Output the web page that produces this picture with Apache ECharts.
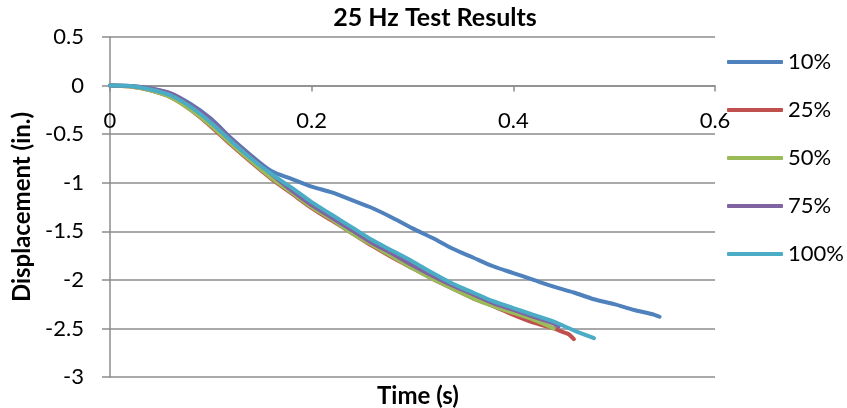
<!DOCTYPE html>
<html>
<head>
<meta charset="utf-8">
<script src="https://cdn.jsdelivr.net/npm/echarts@6/dist/echarts.min.js"></script>
<style>
  html, body { margin: 0; padding: 0; background: #fff; }
  #chart { width: 847px; height: 408px; }
</style>
</head>
<body>
<div id="chart"></div>
<script>
// time (s) and displacement (in.)
const time10 = [0, 0.02, 0.04, 0.06, 0.08, 0.10, 0.12, 0.14, 0.16, 0.18, 0.20, 0.22, 0.24, 0.26, 0.28, 0.30, 0.32, 0.34, 0.36, 0.38, 0.40, 0.42, 0.44, 0.46, 0.48, 0.50, 0.52, 0.54, 0.545]
const disp10 = [0, -0.005, -0.03, -0.08, -0.19, -0.34, -0.54, -0.72, -0.88, -0.96, -1.04, -1.10, -1.18, -1.26, -1.36, -1.47, -1.57, -1.68, -1.77, -1.86, -1.93, -2.00, -2.07, -2.13, -2.20, -2.25, -2.31, -2.36, -2.38]

const time25 = [0, 0.02, 0.04, 0.06, 0.08, 0.10, 0.12, 0.14, 0.16, 0.18, 0.20, 0.22, 0.24, 0.26, 0.28, 0.30, 0.32, 0.34, 0.36, 0.38, 0.40, 0.42, 0.44, 0.45, 0.455, 0.46]
const disp25 = [0, -0.01, -0.05, -0.12, -0.25, -0.42, -0.61, -0.79, -0.96, -1.11, -1.26, -1.39, -1.52, -1.65, -1.77, -1.88, -1.99, -2.09, -2.19, -2.27, -2.36, -2.44, -2.50, -2.54, -2.56, -2.61]

const time50 = [0, 0.02, 0.04, 0.06, 0.08, 0.10, 0.12, 0.14, 0.16, 0.18, 0.20, 0.22, 0.24, 0.26, 0.28, 0.30, 0.32, 0.34, 0.36, 0.38, 0.40, 0.42, 0.44]
const disp50 = [0, -0.01, -0.05, -0.12, -0.25, -0.41, -0.60, -0.78, -0.95, -1.10, -1.25, -1.38, -1.52, -1.64, -1.76, -1.88, -1.99, -2.09, -2.19, -2.27, -2.34, -2.41, -2.50]

const time75 = [0, 0.02, 0.04, 0.06, 0.08, 0.10, 0.12, 0.14, 0.16, 0.18, 0.20, 0.22, 0.24, 0.26, 0.28, 0.30, 0.32, 0.34, 0.36, 0.38, 0.40, 0.42, 0.44, 0.445]
const disp75 = [0, -0.005, -0.03, -0.08, -0.20, -0.35, -0.55, -0.73, -0.91, -1.08, -1.23, -1.36, -1.49, -1.62, -1.73, -1.85, -1.96, -2.06, -2.15, -2.24, -2.31, -2.38, -2.45, -2.48]

const time100 = [0, 0.02, 0.04, 0.06, 0.08, 0.10, 0.12, 0.14, 0.16, 0.18, 0.20, 0.22, 0.24, 0.26, 0.28, 0.30, 0.32, 0.34, 0.36, 0.38, 0.40, 0.42, 0.44, 0.46, 0.48]
const disp100 = [0, -0.005, -0.04, -0.10, -0.22, -0.38, -0.57, -0.75, -0.91, -1.05, -1.20, -1.33, -1.46, -1.59, -1.70, -1.81, -1.93, -2.04, -2.13, -2.22, -2.29, -2.36, -2.43, -2.52, -2.60]

const seriesNames = ['10%', '25%', '50%', '75%', '100%']
const seriesColors = ['#4f81bd', '#c0504d', '#9bbb59', '#8064a2', '#4bacc6']
const seriesTimes = [time10, time25, time50, time75, time100]
const seriesDisp = [disp10, disp25, disp50, disp75, disp100]

const xTicks = { min: 0, max: 0.6, interval: 0.2 }
const yTicks = { min: -3, max: 0.5, interval: 0.5 }

const font = 'Lato, "Open Sans", sans-serif'
const gray = '#8c8c8c'

const pairs = (t, d) => t.map((v, i) => [v, d[i]])

const chart = echarts.init(document.getElementById('chart'))
chart.setOption({
  animation: false,
  textStyle: { fontFamily: font },
  title: [
    {
      text: '25 Hz Test Results',
      left: 430,
      top: 0,
      textAlign: 'center',
      textStyle: { fontFamily: font, fontSize: 25, fontWeight: 'bold', color: '#000' },
    },
    {
      // x axis name sits under the plot, the axis itself runs through y = 0
      text: 'Time (s)',
      left: 413,
      top: 379,
      textAlign: 'center',
      textStyle: { fontFamily: font, fontSize: 24, fontWeight: 'bold', color: '#000' },
    },
  ],
  grid: { left: 110, right: 132, top: 37, bottom: 31, containLabel: false, outerBoundsMode: 'none' },
  legend: {
    data: seriesNames,
    orient: 'vertical',
    left: 722,
    top: 45,
    icon: 'roundRect',
    itemWidth: 56,
    itemHeight: 4,
    itemGap: 24,
    textStyle: { fontFamily: font, fontSize: 22, lineHeight: 24, color: '#000' },
  },
  xAxis: {
    type: 'value',
    min: xTicks.min,
    max: xTicks.max,
    interval: xTicks.interval,
    axisLine: { show: true, onZero: false, lineStyle: { color: gray, width: 1.5 } },
    axisTick: { show: true, length: 6, lineStyle: { color: gray, width: 1.5 } },
    axisLabel: { margin: 24, fontSize: 22, color: '#000', fontFamily: font },
    splitLine: { show: false },
  },
  yAxis: {
    type: 'value',
    min: yTicks.min,
    max: yTicks.max,
    interval: yTicks.interval,
    name: 'Displacement (in.)',
    nameLocation: 'middle',
    nameRotate: 90,
    nameGap: 76,
    nameTextStyle: { fontFamily: font, fontSize: 24, fontWeight: 'bold', color: '#000' },
    axisLine: { show: true, onZero: false, lineStyle: { color: gray, width: 1.5 } },
    axisTick: { show: true, length: 8, lineStyle: { color: gray, width: 1.5 } },
    axisLabel: { margin: 26, fontSize: 22, color: '#000', fontFamily: font },
    splitLine: { show: true, lineStyle: { color: gray, width: 1.5 } },
  },
  series: seriesNames.map((name, i) => ({
    name: name,
    type: 'line',
    data: pairs(seriesTimes[i], seriesDisp[i]),
    showSymbol: false,
    smooth: 0.3,
    color: seriesColors[i],
    lineStyle: { color: seriesColors[i], width: 4, cap: 'round', join: 'round' },
  })),
})

// move the x axis (line, ticks and labels) up to the y = 0 line, like Excel does
const zeroY = chart.convertToPixel({ yAxisIndex: 0 }, 0)
const baseY = chart.convertToPixel({ yAxisIndex: 0 }, yTicks.min)
chart.setOption({ xAxis: { offset: zeroY - baseY } })
</script>
</body>
</html>
